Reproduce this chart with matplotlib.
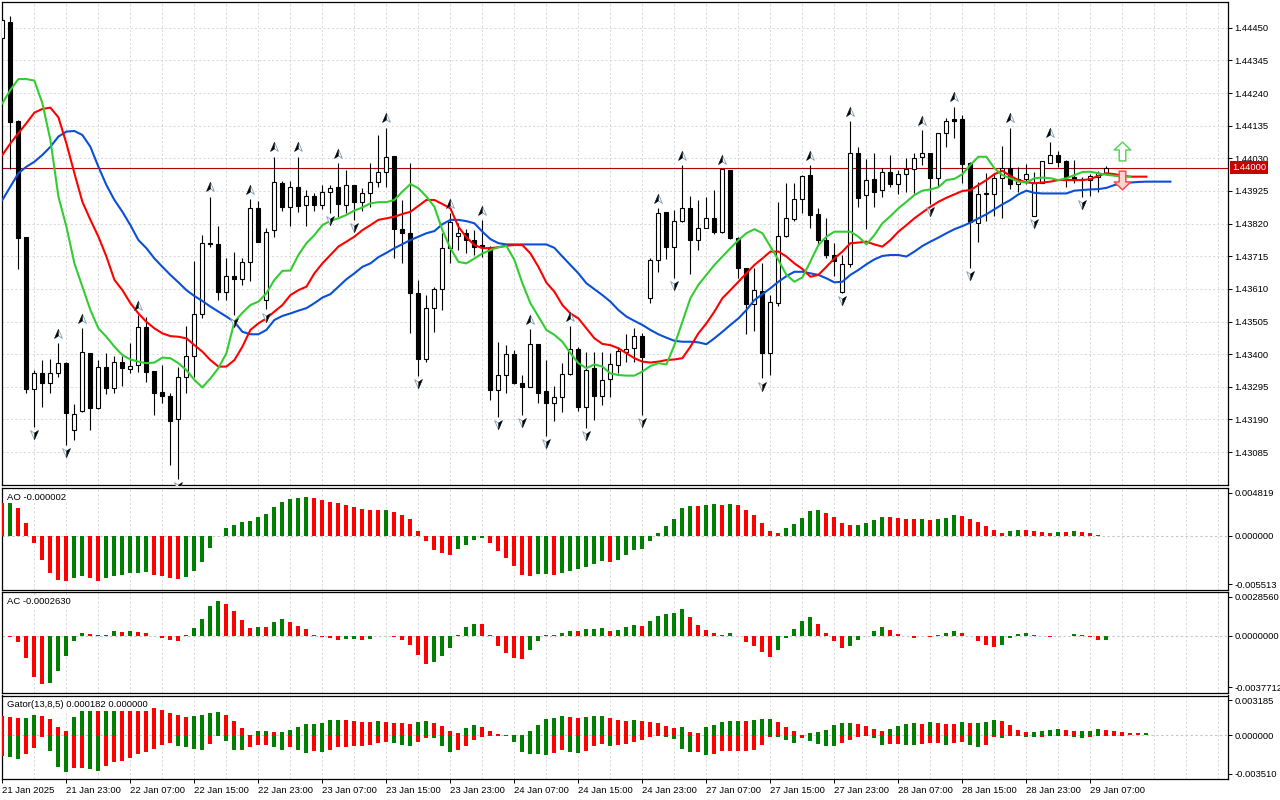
import matplotlib
matplotlib.use("Agg")
import matplotlib.pyplot as plt
import numpy as np
from matplotlib.path import Path
from matplotlib.transforms import blended_transform_factory

plt.rcParams['font.family'] = ['Liberation Sans', 'DejaVu Sans']
plt.rcParams['font.size'] = 6.8

# ---------------- data (hourly bars, 21 Jan 15:00 .. 29 Jan 09:00) ----------------
time_labels = ["21 Jan 2025", "21 Jan 23:00", "22 Jan 07:00", "22 Jan 15:00", "22 Jan 23:00",
               "23 Jan 07:00", "23 Jan 15:00", "23 Jan 23:00", "24 Jan 07:00", "24 Jan 15:00",
               "24 Jan 23:00", "27 Jan 07:00", "27 Jan 15:00", "27 Jan 23:00", "28 Jan 07:00",
               "28 Jan 15:00", "28 Jan 23:00", "29 Jan 07:00"]
time_label_bars = [0, 8, 16, 24, 32, 40, 48, 56, 64, 72, 80, 88, 96, 104, 112, 120, 128, 136]

opens = [
    1.44417, 1.44468, 1.44150, 1.43777, 1.43287, 1.43338, 1.43308, 1.43340, 1.43371, 1.43156,
    1.43217, 1.43403, 1.43226, 1.43360, 1.43290, 1.43374, 1.43351, 1.43365, 1.43486, 1.43346,
    1.43277, 1.43266, 1.43190, 1.43328, 1.43395, 1.43528, 1.43757, 1.43753, 1.43601, 1.43651,
    1.43641, 1.43696, 1.43869, 1.43574, 1.43799, 1.43950, 1.43872, 1.43939, 1.43880, 1.43910,
    1.43880, 1.43923, 1.43939, 1.43880, 1.43943, 1.43889, 1.43918, 1.43953, 1.43987, 1.44037,
    1.43802, 1.43789, 1.43598, 1.43383, 1.43548, 1.43609, 1.43741, 1.43780, 1.43791, 1.43767,
    1.43751, 1.43746, 1.43285, 1.43333, 1.43400, 1.43306, 1.43295, 1.43432, 1.43282, 1.43242,
    1.43261, 1.43335, 1.43416, 1.43231, 1.43355, 1.43266, 1.43319, 1.43365, 1.43406, 1.43419,
    1.43458, 1.43580, 1.43703, 1.43856, 1.43744, 1.43828, 1.43869, 1.43767, 1.43807, 1.43837,
    1.43792, 1.43992, 1.43775, 1.43676, 1.43561, 1.43603, 1.43403, 1.43564, 1.43781, 1.43834,
    1.43898, 1.43976, 1.43850, 1.43767, 1.43719, 1.43599, 1.43689, 1.44046, 1.43912, 1.43963,
    1.43928, 1.43985, 1.43946, 1.43979, 1.43995, 1.44033, 1.44046, 1.43968, 1.44111, 1.44157,
    1.44157, 1.44014, 1.43821, 1.43914, 1.43915, 1.43966, 1.44000, 1.43946, 1.43963, 1.43845,
    1.43952, 1.44016, 1.44041, 1.44020, 1.43971, 1.43963, 1.43960, 1.43971, 1.43982,
]
highs = [
    1.44481, 1.44488, 1.44152, 1.43778, 1.43349, 1.43381, 1.43383, 1.43435, 1.43376, 1.43239,
    1.43483, 1.43405, 1.43381, 1.43403, 1.43394, 1.43394, 1.43435, 1.43526, 1.43521, 1.43347,
    1.43365, 1.43274, 1.43360, 1.43491, 1.43700, 1.43783, 1.43907, 1.43812, 1.43710, 1.43730,
    1.43710, 1.43899, 1.43893, 1.43805, 1.44035, 1.43957, 1.43957, 1.44035, 1.43928, 1.43918,
    1.43944, 1.43944, 1.44014, 1.43992, 1.43944, 1.43934, 1.44014, 1.44105, 1.44129, 1.44038,
    1.43896, 1.44014, 1.43639, 1.43590, 1.43617, 1.43789, 1.43853, 1.43821, 1.43802, 1.43799,
    1.43832, 1.43748, 1.43440, 1.43429, 1.43413, 1.43333, 1.43480, 1.43433, 1.43381, 1.43298,
    1.43371, 1.43491, 1.43424, 1.43408, 1.43408, 1.43408, 1.43405, 1.43424, 1.43464, 1.43483,
    1.43467, 1.43708, 1.43869, 1.43857, 1.43864, 1.44009, 1.43909, 1.43896, 1.43907, 1.43928,
    1.43996, 1.43994, 1.43776, 1.43677, 1.43678, 1.43692, 1.43590, 1.43890, 1.43950, 1.43952,
    1.43976, 1.44009, 1.43869, 1.43837, 1.43757, 1.43719, 1.44150, 1.44067, 1.44027, 1.44046,
    1.43998, 1.44041, 1.43992, 1.44030, 1.44046, 1.44121, 1.44047, 1.44112, 1.44159, 1.44196,
    1.44169, 1.44017, 1.43955, 1.43982, 1.43984, 1.44070, 1.44129, 1.44003, 1.44012, 1.43985,
    1.44021, 1.44082, 1.44054, 1.44025, 1.44025, 1.43971, 1.43980, 1.43990, 1.44005,
]
lows = [
    1.44411, 1.43995, 1.43673, 1.43276, 1.43167, 1.43231, 1.43276, 1.43328, 1.43108, 1.43124,
    1.43215, 1.43156, 1.43224, 1.43271, 1.43274, 1.43299, 1.43340, 1.43344, 1.43309, 1.43204,
    1.43244, 1.43043, 1.42998, 1.43274, 1.43328, 1.43515, 1.43745, 1.43574, 1.43574, 1.43526,
    1.43623, 1.43635, 1.43761, 1.43544, 1.43778, 1.43862, 1.43812, 1.43856, 1.43812, 1.43862,
    1.43866, 1.43853, 1.43842, 1.43853, 1.43832, 1.43862, 1.43872, 1.43939, 1.43939, 1.43708,
    1.43694, 1.43469, 1.43330, 1.43376, 1.43472, 1.43542, 1.43692, 1.43735, 1.43724, 1.43719,
    1.43714, 1.43253, 1.43199, 1.43276, 1.43304, 1.43204, 1.43293, 1.43244, 1.43137, 1.43186,
    1.43215, 1.43333, 1.43218, 1.43163, 1.43188, 1.43236, 1.43263, 1.43340, 1.43376, 1.43376,
    1.43204, 1.43566, 1.43665, 1.43705, 1.43646, 1.43826, 1.43657, 1.43735, 1.43806, 1.43787,
    1.43791, 1.43770, 1.43644, 1.43464, 1.43475, 1.43322, 1.43333, 1.43555, 1.43778, 1.43828,
    1.43853, 1.43805, 1.43751, 1.43708, 1.43651, 1.43598, 1.43681, 1.43874, 1.43802, 1.43874,
    1.43907, 1.43939, 1.43914, 1.43923, 1.43918, 1.44009, 1.43882, 1.43941, 1.44067, 1.44096,
    1.43950, 1.43678, 1.43762, 1.43829, 1.43844, 1.43837, 1.43930, 1.43923, 1.43947, 1.43844,
    1.43950, 1.44014, 1.44003, 1.43939, 1.43952, 1.43907, 1.43909, 1.43923, 1.43981,
]
closes = [
    1.44475, 1.44148, 1.43775, 1.43287, 1.43338, 1.43308, 1.43338, 1.43371, 1.43210, 1.43207,
    1.43406, 1.43226, 1.43360, 1.43290, 1.43374, 1.43355, 1.43362, 1.43486, 1.43344, 1.43276,
    1.43266, 1.43186, 1.43326, 1.43395, 1.43528, 1.43757, 1.43753, 1.43601, 1.43651, 1.43641,
    1.43696, 1.43869, 1.43762, 1.43792, 1.43953, 1.43872, 1.43939, 1.43878, 1.43910, 1.43880,
    1.43923, 1.43936, 1.43882, 1.43943, 1.43889, 1.43918, 1.43953, 1.43987, 1.44033, 1.43802,
    1.43789, 1.43598, 1.43383, 1.43548, 1.43609, 1.43741, 1.43826, 1.43791, 1.43767, 1.43746,
    1.43746, 1.43285, 1.43333, 1.43400, 1.43306, 1.43293, 1.43432, 1.43276, 1.43242, 1.43261,
    1.43335, 1.43416, 1.43231, 1.43349, 1.43266, 1.43317, 1.43367, 1.43410, 1.43417, 1.43458,
    1.43392, 1.43703, 1.43853, 1.43744, 1.43828, 1.43869, 1.43767, 1.43807, 1.43837, 1.43794,
    1.43995, 1.43775, 1.43676, 1.43561, 1.43606, 1.43403, 1.43569, 1.43781, 1.43837, 1.43898,
    1.43973, 1.43848, 1.43767, 1.43719, 1.43701, 1.43689, 1.44046, 1.43903, 1.43960, 1.43923,
    1.43985, 1.43946, 1.43979, 1.43995, 1.44032, 1.44046, 1.43968, 1.44111, 1.44151, 1.44151,
    1.44012, 1.43826, 1.43914, 1.43917, 1.43966, 1.44000, 1.43946, 1.43963, 1.43980, 1.43952,
    1.44020, 1.44041, 1.44019, 1.43971, 1.43960, 1.43960, 1.43973, 1.43982, 1.44000,
]

# Alligator lines as displayed (already shifted forward 8 / 5 / 3 bars)
jaw = [
    1.43896, 1.43939, 1.43982, 1.44003, 1.44019, 1.44041, 1.44067, 1.44100, 1.44116, 1.44118,
    1.44105, 1.44067, 1.44003, 1.43944, 1.43896, 1.43858, 1.43815, 1.43767, 1.43741, 1.43708,
    1.43681, 1.43655, 1.43631, 1.43606, 1.43587, 1.43571, 1.43553, 1.43537, 1.43521, 1.43504,
    1.43472, 1.43464, 1.43464, 1.43478, 1.43510, 1.43523, 1.43531, 1.43540, 1.43548, 1.43564,
    1.43582, 1.43593, 1.43617, 1.43641, 1.43660, 1.43681, 1.43692, 1.43712, 1.43726, 1.43741,
    1.43754, 1.43767, 1.43778, 1.43789, 1.43796, 1.43818, 1.43832, 1.43832, 1.43828, 1.43821,
    1.43794, 1.43770, 1.43757, 1.43753, 1.43753, 1.43753, 1.43753, 1.43753, 1.43753, 1.43742,
    1.43714, 1.43687, 1.43660, 1.43628, 1.43609, 1.43590, 1.43569, 1.43542, 1.43521, 1.43507,
    1.43494, 1.43478, 1.43464, 1.43453, 1.43443, 1.43440, 1.43440, 1.43438, 1.43432, 1.43451,
    1.43472, 1.43494, 1.43515, 1.43542, 1.43574, 1.43593, 1.43612, 1.43633, 1.43651, 1.43665,
    1.43665, 1.43660, 1.43655, 1.43644, 1.43631, 1.43633, 1.43655, 1.43671, 1.43689, 1.43705,
    1.43716, 1.43719, 1.43719, 1.43714, 1.43730, 1.43748, 1.43762, 1.43775, 1.43789, 1.43802,
    1.43812, 1.43823, 1.43837, 1.43850, 1.43866, 1.43882, 1.43896, 1.43914, 1.43926, 1.43919,
    1.43917, 1.43917, 1.43917, 1.43917, 1.43926, 1.43928, 1.43930, 1.43931, 1.43935, 1.43944,
    1.43950, 1.43952, 1.43954, 1.43955, 1.43955, 1.43955, 1.43955,
]
teeth = [
    1.44041, 1.44078, 1.44111, 1.44143, 1.44177, 1.44189, 1.44193, 1.44162, 1.44078, 1.43982,
    1.43890, 1.43832, 1.43778, 1.43714, 1.43639, 1.43606, 1.43564, 1.43531, 1.43504, 1.43483,
    1.43467, 1.43458, 1.43456, 1.43451, 1.43429, 1.43408, 1.43381, 1.43360, 1.43360, 1.43381,
    1.43424, 1.43478, 1.43499, 1.43515, 1.43537, 1.43558, 1.43590, 1.43606, 1.43617, 1.43660,
    1.43692, 1.43719, 1.43746, 1.43762, 1.43778, 1.43799, 1.43815, 1.43832, 1.43837, 1.43842,
    1.43851, 1.43858, 1.43877, 1.43896, 1.43896, 1.43883, 1.43869, 1.43810, 1.43776, 1.43751,
    1.43741, 1.43741, 1.43744, 1.43749, 1.43751, 1.43751, 1.43724, 1.43681, 1.43630, 1.43601,
    1.43558, 1.43531, 1.43515, 1.43483, 1.43451, 1.43433, 1.43429, 1.43419, 1.43403, 1.43387,
    1.43376, 1.43373, 1.43376, 1.43381, 1.43383, 1.43387, 1.43424, 1.43467, 1.43499, 1.43537,
    1.43580, 1.43606, 1.43633, 1.43660, 1.43687, 1.43708, 1.43730, 1.43730, 1.43714, 1.43692,
    1.43674, 1.43649, 1.43655, 1.43681, 1.43708, 1.43730, 1.43757, 1.43759, 1.43762, 1.43753,
    1.43746, 1.43767, 1.43794, 1.43815, 1.43837, 1.43856, 1.43874, 1.43890, 1.43903, 1.43914,
    1.43925, 1.43928, 1.43944, 1.43960, 1.43979, 1.43990, 1.43973, 1.43960, 1.43953, 1.43950,
    1.43952, 1.43955, 1.43960, 1.43960, 1.43960, 1.43960, 1.43963, 1.43974, 1.43982, 1.43979,
    1.43974, 1.43971, 1.43971, 1.43971,
]
lips = [
    1.44207, 1.44250, 1.44285, 1.44285, 1.44280, 1.44207, 1.44089, 1.43907, 1.43810, 1.43692,
    1.43617, 1.43542, 1.43483, 1.43456, 1.43424, 1.43397, 1.43383, 1.43376, 1.43371, 1.43373,
    1.43389, 1.43387, 1.43371, 1.43349, 1.43317, 1.43293, 1.43322, 1.43355, 1.43403, 1.43504,
    1.43533, 1.43558, 1.43569, 1.43596, 1.43639, 1.43668, 1.43669, 1.43719, 1.43757, 1.43783,
    1.43815, 1.43829, 1.43837, 1.43848, 1.43862, 1.43872, 1.43885, 1.43889, 1.43889, 1.43896,
    1.43923, 1.43947, 1.43934, 1.43907, 1.43874, 1.43799, 1.43741, 1.43697, 1.43692, 1.43708,
    1.43724, 1.43735, 1.43744, 1.43748, 1.43703, 1.43628, 1.43564, 1.43521, 1.43478, 1.43462,
    1.43440, 1.43403, 1.43371, 1.43355, 1.43367, 1.43360, 1.43338, 1.43333, 1.43331, 1.43331,
    1.43344, 1.43362, 1.43371, 1.43367, 1.43429, 1.43504, 1.43580, 1.43623, 1.43655, 1.43687,
    1.43714, 1.43741, 1.43767, 1.43789, 1.43802, 1.43789, 1.43746, 1.43703, 1.43655, 1.43633,
    1.43647, 1.43698, 1.43751, 1.43778, 1.43794, 1.43794, 1.43794, 1.43778, 1.43753, 1.43783,
    1.43821, 1.43844, 1.43869, 1.43890, 1.43912, 1.43926, 1.43930, 1.43937, 1.43960, 1.43964,
    1.43979, 1.44009, 1.44035, 1.44035, 1.43998, 1.43976, 1.43966, 1.43955, 1.43952, 1.43966,
    1.43968, 1.43966, 1.43960, 1.43966, 1.43976, 1.43986, 1.43987, 1.43982, 1.43977, 1.43974,
    1.43971, 1.43971,
]

fractal_up_bars = [7, 10, 17, 26, 31, 34, 37, 42, 48, 56, 60, 66, 71, 82, 85, 90, 101, 106, 115, 119, 126, 131]
fractal_dn_bars = [4, 8, 22, 29, 33, 41, 44, 52, 62, 65, 68, 73, 80, 84, 95, 105, 116, 121, 129, 135]

signal_bars = [140]
signal_up_price = [1.44053]
signal_dn_price = [1.43959]

price_levels = [1.43085, 1.43190, 1.43295, 1.43400, 1.43505, 1.43610, 1.43715,
                1.43820, 1.43925, 1.44030, 1.44135, 1.44240, 1.44345, 1.44450]

ao = [
    0.003309, 0.003377, 0.002769, 0.001249, -0.000777, -0.002431, -0.003816, -0.004458, -0.004626, -0.004323,
    -0.004120, -0.004323, -0.004559, -0.004323, -0.004052, -0.004019, -0.003816, -0.003748, -0.003715, -0.003951,
    -0.004052, -0.004255, -0.004390, -0.004221, -0.003613, -0.002702, -0.001283, -0.000068, 0.000743, 0.001114,
    0.001351, 0.001452, 0.001857, 0.002161, 0.002870, 0.003377, 0.003681, 0.003782, 0.003951, 0.003782,
    0.003580, 0.003445, 0.003276, 0.003141, 0.002904, 0.002735, 0.002634, 0.002600, 0.002634, 0.002431,
    0.002128, 0.001689, 0.000507, -0.000574, -0.001418, -0.001790, -0.001925, -0.001385, -0.000912, -0.000439,
    -0.000236, -0.000777, -0.001587, -0.002296, -0.003039, -0.003951, -0.004052, -0.003884, -0.003850, -0.003951,
    -0.003748, -0.003546, -0.003411, -0.003141, -0.002837, -0.002600, -0.002668, -0.002431, -0.001925, -0.001486,
    -0.001317, -0.000574, 0.000304, 0.001013, 0.001722, 0.002837, 0.003039, 0.003006, 0.003073, 0.003242,
    0.003141, 0.003242, 0.003141, 0.002634, 0.002128, 0.001317, 0.000439, 0.000304, 0.000810, 0.001216,
    0.001824, 0.002533, 0.002634, 0.002263, 0.001857, 0.001249, 0.001047, 0.001114, 0.001249, 0.001553,
    0.001925, 0.001891, 0.001824, 0.001722, 0.001655, 0.001722, 0.001621, 0.001689, 0.001824, 0.002128,
    0.002026, 0.001722, 0.001418, 0.001013, 0.000540, 0.000304, 0.000507, 0.000608, 0.000574, 0.000507,
    0.000405, 0.000304, 0.000405, 0.000371, 0.000473, 0.000405, 0.000304, 0.000101, -0.000002,
]
ac = [
    -0.0000219, -0.0000656, -0.0004374, -0.0014872, -0.0027338, -0.0031712, -0.0031274, -0.0023401, -0.0013559, -0.0003718,
    0.0001968, 0.0001312, 0.0000219, 0.0000437, 0.0002843, 0.0002624, 0.0003281, 0.0002624, 0.0001968, -0.0000437,
    -0.0001750, -0.0003062, -0.0003281, 0.0000219, 0.0005249, 0.0011154, 0.0019683, 0.0022964, 0.0020995, 0.0016403,
    0.0010498, 0.0005249, 0.0005905, 0.0005686, 0.0009185, 0.0011154, 0.0009185, 0.0006561, 0.0004593, 0.0000656,
    -0.0001094, -0.0001750, -0.0003062, -0.0002406, -0.0002187, -0.0003062, -0.0002406, -0.0000437, -0.0000219, -0.0001094,
    -0.0003062, -0.0006342, -0.0012903, -0.0018371, -0.0017496, -0.0013559, -0.0008311, 0.0000219, 0.0005905, 0.0007873,
    0.0007655, 0.0000219, -0.0006998, -0.0011591, -0.0014434, -0.0015528, -0.0009623, -0.0003718, 0.0000219, 0.0000437,
    0.0001968, 0.0003281, 0.0003062, 0.0004374, 0.0004593, 0.0005249, 0.0003281, 0.0003937, 0.0005905, 0.0007217,
    0.0006561, 0.0009842, 0.0013122, 0.0014434, 0.0015090, 0.0017715, 0.0012466, 0.0007217, 0.0003937, 0.0001968,
    0.0000656, 0.0001968, -0.0000437, -0.0004374, -0.0006998, -0.0010935, -0.0014216, -0.0009623, -0.0001750, 0.0004155,
    0.0009842, 0.0012466, 0.0007873, 0.0001968, -0.0003718, -0.0008311, -0.0006998, -0.0003062, -0.0000437, 0.0003281,
    0.0005905, 0.0003937, 0.0000875, -0.0000437, -0.0001750, -0.0000437, -0.0000656, 0.0000109, 0.0001968, 0.0003281,
    0.0001968, -0.0000437, -0.0003718, -0.0006342, -0.0007655, -0.0006342, -0.0001750, 0.0001312, 0.0001531, 0.0000219,
    -0.0000437, -0.0001094, -0.0000437, -0.0000219, 0.0001312, 0.0000656, -0.0001094, -0.0003062, -0.0002630,
]
gator_up = [
    0.001541, 0.001461, 0.001382, 0.001408, 0.001621, 0.001541, 0.001302, 0.000638, 0.000345, 0.001461,
    0.002099, 0.002312, 0.002258, 0.002338, 0.002524, 0.002498, 0.002444, 0.002312, 0.002258, 0.002179,
    0.001993, 0.001807, 0.001621, 0.001461, 0.001541, 0.001621, 0.001754, 0.001833, 0.001621, 0.001116,
    0.000585, 0.000053, 0.000319, 0.000345, 0.000239, 0.000292, 0.000399, 0.000638, 0.000877, 0.000903,
    0.000983, 0.001196, 0.001222, 0.001196, 0.001116, 0.001063, 0.001036, 0.001116, 0.001063, 0.001010,
    0.000957, 0.000930, 0.001036, 0.001116, 0.000957, 0.000717, 0.000319, 0.000159, 0.000558, 0.000797,
    0.000638, 0.000319, 0.000080, 0.000027, 0.000010, 0.000005, 0.000319, 0.000797, 0.001275, 0.001355,
    0.001514, 0.001435, 0.001421, 0.001461, 0.001514, 0.001541, 0.001355, 0.001196, 0.001169, 0.001196,
    0.001169, 0.001089, 0.000957, 0.000717, 0.000558, 0.000638, 0.000239, 0.000159, 0.000638, 0.000797,
    0.001036, 0.001116, 0.001129, 0.001116, 0.001196, 0.001275, 0.001289, 0.001036, 0.000638, 0.000319,
    0.000053, 0.000159, 0.000292, 0.000399, 0.000797, 0.000957, 0.000970, 0.000877, 0.000717, 0.000478,
    0.000319, 0.000478, 0.000717, 0.000877, 0.000957, 0.000930, 0.001036, 0.000957, 0.000930, 0.000903,
    0.001036, 0.000957, 0.000983, 0.001036, 0.001196, 0.001116, 0.000797, 0.000399, 0.000239, 0.000252,
    0.000319, 0.000399, 0.000478, 0.000399, 0.000319, 0.000332, 0.000345, 0.000478, 0.000399, 0.000319,
    0.000239, 0.000173, 0.000159, 0.000182,
]
gator_dn = [
    -0.001647, -0.001727, -0.001886, -0.001488, -0.001010, -0.000133, -0.001249, -0.002524, -0.002923, -0.002604,
    -0.002577, -0.002684, -0.002843, -0.002444, -0.002126, -0.002046, -0.001807, -0.001488, -0.001329, -0.001089,
    -0.000771, -0.000611, -0.000850, -0.000930, -0.001089, -0.001169, -0.000691, -0.000053, -0.000452, -0.001169,
    -0.001196, -0.000930, -0.000771, -0.000744, -0.000930, -0.001169, -0.000930, -0.001169, -0.001408, -0.001275,
    -0.001302, -0.001169, -0.000930, -0.000903, -0.000850, -0.000824, -0.000797, -0.000611, -0.000531, -0.000638,
    -0.000771, -0.000850, -0.000531, -0.000186, -0.000213, -0.000850, -0.001329, -0.001169, -0.000850, -0.000372,
    -0.000133, -0.000053, -0.000027, -0.000013, -0.000531, -0.001329, -0.001488, -0.001514, -0.001568, -0.001408,
    -0.001169, -0.001329, -0.001408, -0.001249, -0.000850, -0.000691, -0.000850, -0.000771, -0.000691, -0.000531,
    -0.000372, -0.000133, -0.000053, -0.000133, -0.000292, -0.001089, -0.001329, -0.001302, -0.001568, -0.001488,
    -0.001275, -0.001249, -0.001236, -0.001222, -0.001169, -0.000771, -0.000133, -0.000159, -0.000372, -0.000611,
    -0.000213, -0.000452, -0.000691, -0.000850, -0.000877, -0.000611, -0.000372, -0.000133, -0.000080, -0.000213,
    -0.000771, -0.000691, -0.000664, -0.000771, -0.000797, -0.000691, -0.000611, -0.000585, -0.000771, -0.000611,
    -0.000531, -0.000771, -0.000930, -0.000771, -0.000133, -0.000213, -0.000080, -0.000027, -0.000106, -0.000133,
    -0.000120, -0.000053, -0.000040, -0.000053, -0.000133, -0.000213, -0.000133, -0.000053, -0.000040, -0.000027,
    -0.000013, -0.000008, 0.0, 0.0,
]

# ---------------- style ----------------
GREEN = '#008000'
RED = '#ff0000'
GRID = '#d9d9d9'
BLUE_LINE = '#0a4fd6'
RED_LINE = '#ff0000'
GREEN_LINE = '#32cd32'
FS = 6.8
XMIN, XMAX = -0.05, 153.2

fig = plt.figure(figsize=(12.8, 8), dpi=100)
fig.patch.set_facecolor('white')


def panel(top, bottom):
    a = fig.add_axes([2 / 1280, 1 - bottom / 800, 1226 / 1280, (bottom - top) / 800])
    a.set_xlim(XMIN, XMAX)
    for s in a.spines.values():
        s.set_linewidth(0.9)
        s.set_color('black')
    for k in range(4, 154, 4):
        a.axvline(k, color=GRID, lw=0.7, dashes=(2.2, 2.2), zorder=0)
    a.set_xticks([])
    return a


def rising_colors(vals, use_abs=False):
    cols = []
    for k, v in enumerate(vals):
        cur = abs(v) if use_abs else v
        prev = (abs(vals[k - 1]) if use_abs else vals[k - 1]) if k > 0 else cur
        cols.append(GREEN if cur > prev else RED)
    return cols


def osc_axis(a, lo, hi, labels, h_px, name):
    a.set_ylim(lo, hi)
    rng = hi - lo
    a.yaxis.tick_right()
    a.set_yticks([hi - 4.8 / h_px * rng, 0.0, lo + 5.8 / h_px * rng])
    a.set_yticklabels(labels)
    a.tick_params(axis='y', direction='out', length=3, width=0.7, pad=1.5, labelsize=FS)
    a.axhline(0, color='#c8c8c8', lw=0.8, dashes=(2.2, 2.2), zorder=1)
    a.annotate(name, xy=(0, 1), xycoords='axes fraction', xytext=(5, -9),
               textcoords='offset pixels', ha='left', va='center', fontsize=FS,
               bbox=dict(fc='white', ec='none', pad=1.2), zorder=10)


# ---------------- main price panel ----------------
ax = panel(2, 485)
ax.set_ylim(1.429791, 1.445329)
for lv in price_levels:
    ax.axhline(lv, color=GRID, lw=0.7, dashes=(2.2, 2.2), zorder=0)
ax.yaxis.tick_right()
ax.set_yticks(price_levels)
ax.set_yticklabels([f"{v:.5f}" for v in price_levels])
ax.tick_params(axis='y', direction='out', length=3, width=0.7, pad=1.5, labelsize=FS)

n = len(opens)
xs = np.arange(n)
o = np.array(opens); h = np.array(highs); l = np.array(lows); c = np.array(closes)
ax.axhline(closes[-1], color='#b40000', lw=0.8, zorder=2)
ax.vlines(xs, l, h, color='black', lw=0.8, zorder=3)
body_lo = np.minimum(o, c)
body_h = np.maximum(np.abs(c - o), 0.000012)
faces = ['white' if cc >= oo else 'black' for oo, cc in zip(opens, closes)]
ax.bar(xs, body_h, bottom=body_lo, width=0.5, color=faces, edgecolor='black',
       linewidth=0.8, zorder=4)

ax.plot(np.arange(len(jaw)), jaw, color=BLUE_LINE, lw=1.5, zorder=5)
ax.plot(np.arange(len(teeth)), teeth, color=RED_LINE, lw=1.5, zorder=5)
ax.plot(np.arange(len(lips)), lips, color=GREEN_LINE, lw=1.5, zorder=5)

# fractal arrows
up_full = Path([(0, 1), (0.75, -0.75), (0, -0.25), (-0.75, -0.75), (0, 1)],
               [Path.MOVETO, Path.LINETO, Path.LINETO, Path.LINETO, Path.CLOSEPOLY])
up_half = Path([(0, 1), (0, -0.25), (-0.75, -0.75), (0, 1)],
               [Path.MOVETO, Path.LINETO, Path.LINETO, Path.CLOSEPOLY])
dn_full = Path([(0, -1), (0.75, 0.75), (0, 0.25), (-0.75, 0.75), (0, -1)],
               [Path.MOVETO, Path.LINETO, Path.LINETO, Path.LINETO, Path.CLOSEPOLY])
dn_half = Path([(0, -1), (0, 0.25), (0.75, 0.75), (0, -1)],
               [Path.MOVETO, Path.LINETO, Path.LINETO, Path.CLOSEPOLY])
fu_y = [highs[i] + 0.00030 for i in fractal_up_bars]
fd_y = [lows[i] - 0.00023 for i in fractal_dn_bars]
ax.plot(fractal_up_bars, fu_y, ls='none', marker=up_full, ms=7.5, mfc='white',
        mec='#7f9fb5', mew=0.6, zorder=7)
ax.plot(fractal_up_bars, fu_y, ls='none', marker=up_half, ms=7.5, mfc='black',
        mec='black', mew=0.3, zorder=8)
ax.plot(fractal_dn_bars, fd_y, ls='none', marker=dn_full, ms=7.5, mfc='white',
        mec='#7f9fb5', mew=0.6, zorder=7)
ax.plot(fractal_dn_bars, fd_y, ls='none', marker=dn_half, ms=7.5, mfc='black',
        mec='black', mew=0.3, zorder=8)

# signal block arrows
blk_up = Path([(0, 1), (0.88, 0.16), (0.35, 0.16), (0.35, -1), (-0.35, -1), (-0.35, 0.16),
               (-0.88, 0.16), (0, 1)],
              [Path.MOVETO] + [Path.LINETO] * 6 + [Path.CLOSEPOLY])
blk_dn = Path([(0, -1), (0.88, -0.16), (0.35, -0.16), (0.35, 1), (-0.35, 1), (-0.35, -0.16),
               (-0.88, -0.16), (0, -1)],
              [Path.MOVETO] + [Path.LINETO] * 6 + [Path.CLOSEPOLY])
ax.plot(signal_bars, signal_up_price, ls='none', marker=blk_up, ms=13.5, mfc='white',
        mec='#5fd35f', mew=1.1, zorder=9)
ax.plot(signal_bars, signal_dn_price, ls='none', marker=blk_dn, ms=13.5, mfc='#ffd2d2',
        mec='#ff4a4a', mew=1.1, zorder=9)

# current price tag
tr = blended_transform_factory(ax.transAxes, ax.transData)
ax.annotate(f"{closes[-1]:.5f}", xy=(1, closes[-1]), xycoords=tr, xytext=(4, 0),
            textcoords='offset pixels', ha='left', va='center', fontsize=FS, color='white',
            bbox=dict(fc='#c80000', ec='none', pad=1.3), annotation_clip=False, zorder=20)

# ---------------- AO ----------------
ax_ao = panel(488, 590)
ax_ao.bar(np.arange(len(ao)), ao, width=0.5, color=rising_colors(ao), zorder=3)
osc_axis(ax_ao, -0.005513, 0.004819, ["0.004819", "0.000000", "-0.005513"], 102,
         f"AO {ao[-1]:.6f}")

# ---------------- AC ----------------
ax_ac = panel(592, 693)
ax_ac.bar(np.arange(len(ac)), ac, width=0.5, color=rising_colors(ac), zorder=3)
osc_axis(ax_ac, -0.0037712, 0.0028560, ["0.0028560", "0.0000000", "-0.0037712"], 101,
         f"AC {ac[-1]:.7f}")

# ---------------- Gator ----------------
ax_gt = panel(695.5, 779.3)
gx = np.arange(len(gator_up))
ax_gt.bar(gx, gator_up, width=0.5, color=rising_colors(gator_up, True), zorder=3)
ax_gt.bar(gx, gator_dn, width=0.5, color=rising_colors(gator_dn, True), zorder=3)
osc_axis(ax_gt, -0.003510, 0.003185, ["0.003185", "0.000000", "-0.003510"], 84,
         f"Gator(13,8,5) {gator_up[-1]:.6f} {abs(gator_dn[-1]):.6f}")

ax_gt.set_xticks(time_label_bars)
ax_gt.set_xticklabels(time_labels)
ax_gt.tick_params(axis='x', direction='out', length=3, width=0.7, pad=2, labelsize=FS)
for lab in ax_gt.get_xticklabels():
    lab.set_horizontalalignment('left')

fig.savefig("out.png", dpi=100, facecolor='white')
